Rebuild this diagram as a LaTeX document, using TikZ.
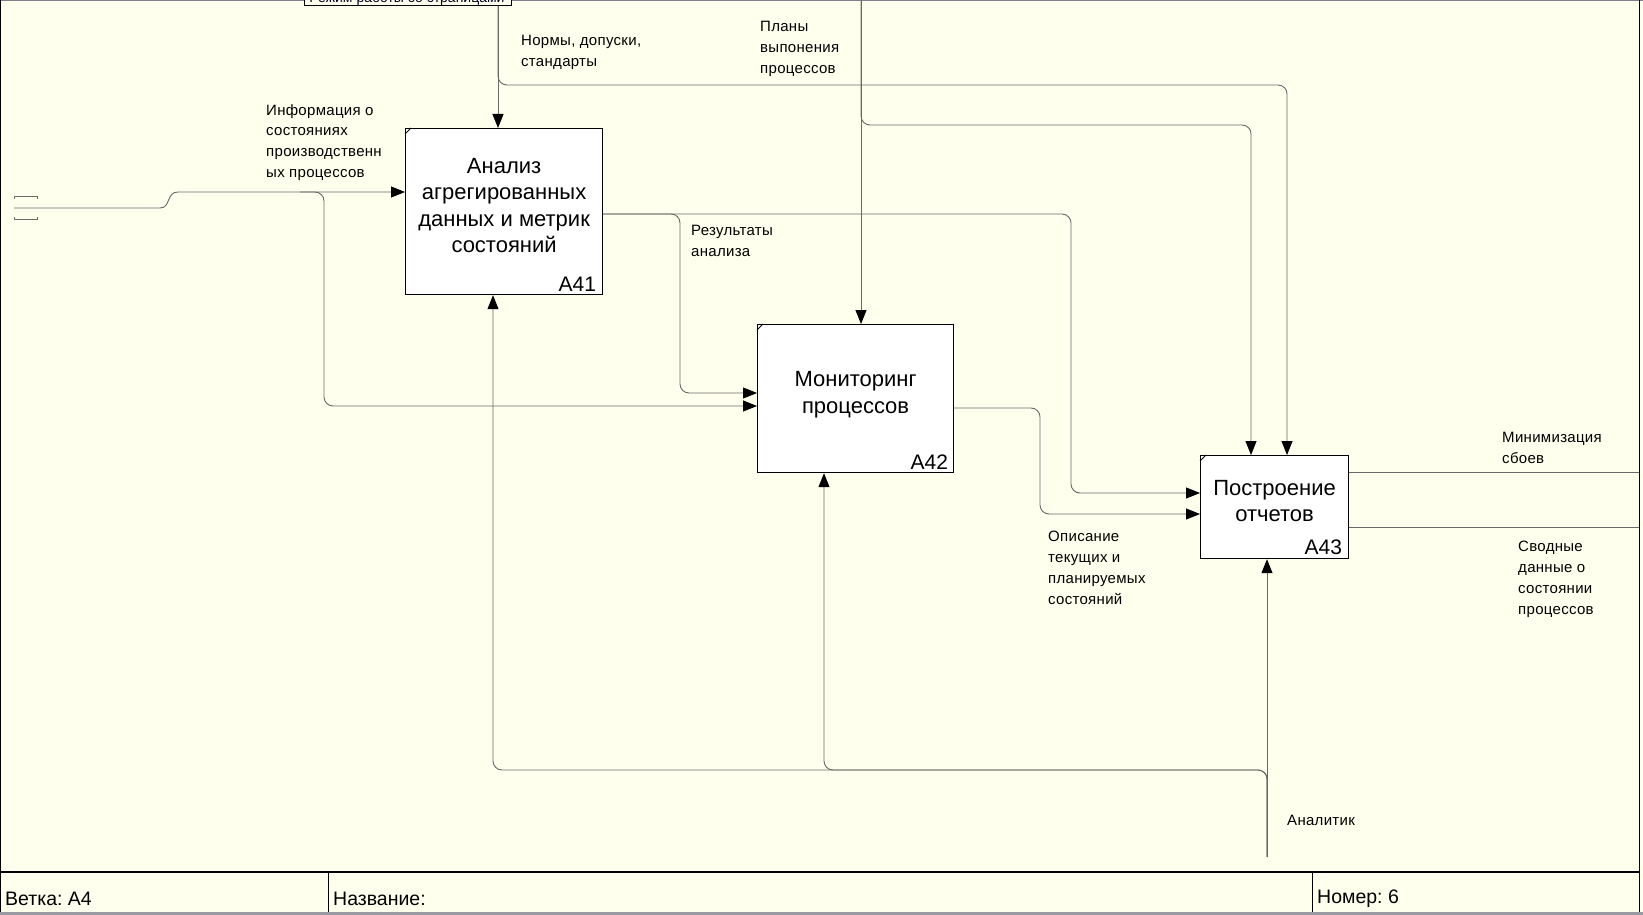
\documentclass[tikz,border=0pt]{standalone}
\usepackage{fontspec}
\setmainfont{Liberation Sans}
\usetikzlibrary{arrows.meta,calc}
\definecolor{bg}{RGB}{255,255,238}
\definecolor{ln}{RGB}{105,105,105}
\definecolor{frm}{RGB}{128,128,140}
\frenchspacing
\begin{document}
\begin{tikzpicture}[x=1pt,y=-1pt,
  line/.style={draw=ln, line width=0.9pt},
  arr/.style={line, -{Triangle[length=14pt,width=11pt,color=black]}, rounded corners=9pt},
  box/.style={draw=black, line width=1.2pt, fill=white, anchor=north west, inner sep=0pt},
  btext/.style={align=center, inner sep=0pt, font=\fontsize{22}{26.5}\selectfont},
  lbl/.style={anchor=north west, align=left, inner sep=0pt, font=\fontsize{15}{20.8}\selectfont\addfontfeatures{LetterSpace=2}},
  num/.style={anchor=south east, inner sep=0pt, font=\fontsize{21}{21}\selectfont},
  foot/.style={anchor=west, inner sep=0pt, font=\fontsize{19.5}{20}\selectfont},
  cornermark/.style={draw=black, line width=0.8pt}]
\useasboundingbox (0,0) rectangle (1643,915);
\fill[bg] (0,0) rectangle (1643,915);
% frame
\draw[frm, line width=1pt] (0,0.5) -- (1643,0.5);
\draw[black, line width=1pt] (0.5,0) -- (0.5,913);
\draw[black, line width=1pt] (1639,0) -- (1639,913);
\fill[frm!80] (0,912) rectangle (1643,915);
% tooltip box cut by the top edge
\begin{scope}
\clip (0,0) rectangle (1643,7);
\fill[bg] (304,-20) rectangle (511,5.5);
\draw[black, line width=1pt] (304,-20) rectangle (511,5.5);
\node[anchor=base, inner sep=0pt, font=\fontsize{14}{14}\selectfont, text=black!85!blue] (tip) at (407,3) {Режим работы со страницами};
\end{scope}

% boxes
\node[box, minimum width=197pt, minimum height=166pt] (A41) at (405,128) {};
\node[box, minimum width=196pt, minimum height=148pt] (A42) at (757,324) {};
\node[box, minimum width=148pt, minimum height=103pt] (A43) at (1200,455) {};
\node[btext] (t41) at ($(A41.center)+(0,-6)$) {Анализ\\агрегированных\\данных и метрик\\состояний};
\node[btext] (t42) at ($(A42.center)+(0,-4)$) {Мониторинг\\процессов};
\node[btext] (t43) at ($(A43.center)+(0,-6)$) {Построение\\отчетов};
\node[num] (n41) at ($(A41.south east)+(-7,-4)$) {A41};
\node[num] (n42) at ($(A42.south east)+(-6,-4)$) {A42};
\node[num] (n43) at ($(A43.south east)+(-7,-4)$) {A43};
\foreach \b in {A41,A42,A43}
  \draw[cornermark] ($(\b.north west)+(0,6)$) -- ($(\b.north west)+(6,0)$);

% free ends
\coordinate (c1) at (498,6);
\coordinate (c2) at (861,0);
\coordinate (tn) at (14,208);
\coordinate (m) at (1267,857);
\coordinate (o1) at (1639,472);
\coordinate (o2) at (1639,527);

% tunnel brackets
\draw[line] (14,199) -- (14,196.5) -- (37,196.5) -- (37,199);
\draw[line] (14,217) -- (14,219.5) -- (37,219.5) -- (37,217);

% controls
\draw[arr] (c1) -- (c1 |- A41.north);
\draw[arr] (c1) |- (1287,85) -- (1287,85 |- A43.north);
\draw[arr] (c2) -- (c2 |- A42.north);
\draw[arr] (c2) |- (1251,125) -- (1251,125 |- A43.north);

% input
\draw[arr, sharp corners] (tn) -- (160,208) .. controls (171,208) and (166,192) .. (178,192) -- (178,192 -| A41.west);
\draw[arr] (300,192) -| (324,406) -- (324,406 -| A42.west);

% outputs of A41 and A42
\draw[arr] (A41.east |- 0,214) -| (680,393) -- (680,393 -| A42.west);
\draw[arr] (A41.east |- 0,214) -| (1071,493) -- (1071,493 -| A43.west);
\draw[arr] (A42.east |- 0,408) -| (1040,514) -- (1040,514 -| A43.west);

% outputs of A43
\draw[line] (A43.east |- o1) -- (o1);
\draw[line] (A43.east |- o2) -- (o2);

% mechanism
\draw[arr] (m) -- (m |- A43.south);
\draw[arr] (m) |- (824,770) -- (824,770 |- A42.south);
\draw[arr] (m) |- (493,770) -- (493,770 |- A41.south);

% labels
\node[lbl] (l1) at (266,104) {Информация о\\состояниях\\производственн\\ых процессов};
\node[lbl] (l2) at (521,35) {Нормы, допуски,\\стандарты};
\node[lbl] (l3) at (760,21) {Планы\\выпонения\\процессов};
\node[lbl] (l4) at (691,225) {Результаты\\анализа};
\node[lbl] (l5) at (1048,531) {Описание\\текущих и\\планируемых\\состояний};
\node[lbl] (l6) at (1502,432) {Минимизация\\сбоев};
\node[lbl] (l7) at (1518,541) {Сводные\\данные о\\состоянии\\процессов};
\node[lbl] (l8) at (1287,815) {Аналитик};

% footer
\draw[black, line width=1.6pt] (0,872) -- (1639,872);
\draw[black, line width=1pt] (328,872) -- (328,912);
\draw[black, line width=1pt] (1312,872) -- (1312,912);
\node[foot] (f1) at (5,899) {Ветка: A4};
\node[foot] (f2) at (333,899) {Название:};
\node[foot] (f3) at (1317,899) {Номер: 6};
\end{tikzpicture}
\end{document}
